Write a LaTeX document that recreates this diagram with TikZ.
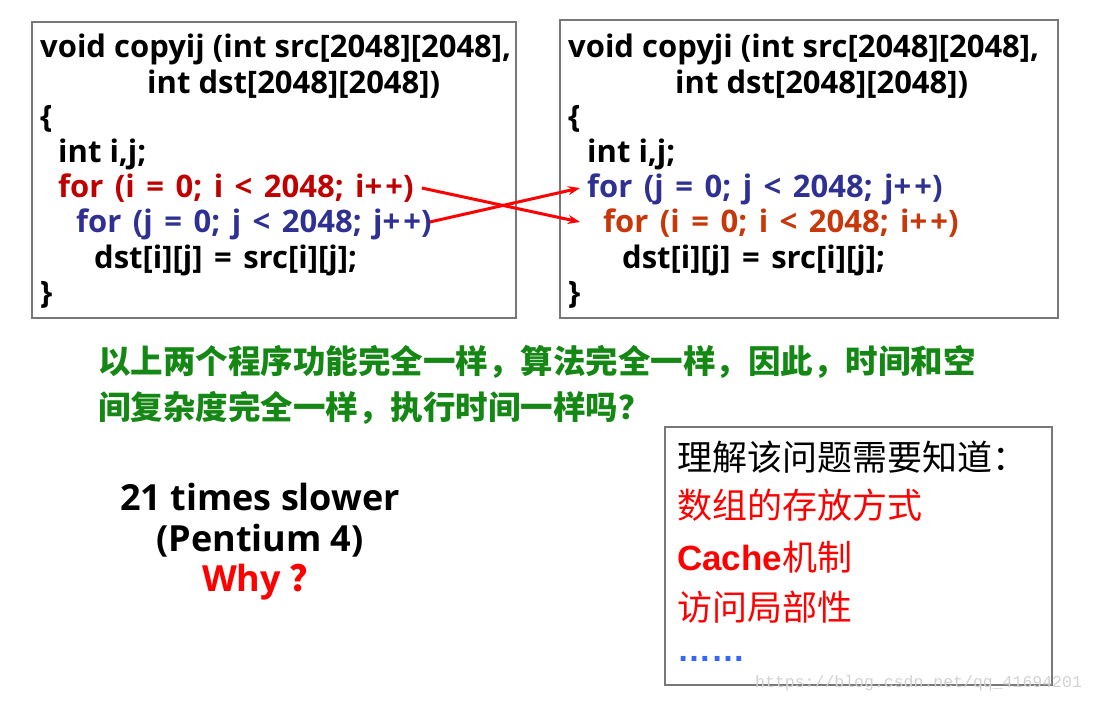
\documentclass[tikz,border=0pt]{standalone}
\usepackage{fontspec}
\usepackage{xcolor}
\setmainfont{Open Sans}
\newfontfamily\cjk{Noto Sans CJK SC}
\newfontfamily\arialf{Liberation Sans}
\newfontfamily\urlf{Liberation Mono}
\usetikzlibrary{arrows.meta}
\definecolor{boxgray}{RGB}{120,120,120}
\definecolor{forred}{RGB}{192,0,0}
\definecolor{forblue}{RGB}{46,49,146}
\definecolor{fororange}{RGB}{200,55,10}
\definecolor{notegreen}{RGB}{20,135,20}
\definecolor{dotblue}{RGB}{51,102,255}
\newcommand{\codefont}{\fontsize{31}{35}\selectfont\bfseries}
\newcommand{\widecode}{\codefont\spaceskip=11.5pt\relax}
\newcommand{\pp}{+\kern3pt+}

\begin{document}
\begin{tikzpicture}[x=1pt,y=-1pt,
  box/.style={draw=boxgray,line width=1.2pt},
  code/.style={anchor=base west,inner sep=0pt,font=\codefont},
  loop/.style={code,font=\widecode},
  note/.style={anchor=west,inner sep=0pt,font=\fontsize{32.5}{36}\selectfont\cjk\bfseries,text=notegreen},
  slow/.style={inner sep=0pt,font=\fontsize{36}{40}\selectfont\bfseries},
  know/.style={anchor=west,inner sep=0pt,font=\fontsize{35}{38}\selectfont\cjk},
  swap/.style={draw=red,line width=3pt,-{Stealth[length=12pt,width=9pt]}}]
\useasboundingbox (0,0) rectangle (1096,702);
\draw[box] (32,22) rectangle (516,318);
\draw[box] (560,20) rectangle (1058,318);
\draw[box] (665,427) rectangle (1052,685);

\node[code] (lhead) at (40,57) {void copyij (int src[2048][2048],};
\node[code] (lhead2) at (147,93) {int dst[2048][2048])};
\node[code] (lopen) at (40,127) {\{};
\node[code] (lint) at (58,162) {int i,j;};
\node[loop,text=forred] (li) at (58,197) {for (i = 0; i < 2048; i\pp)};
\node[loop,text=forblue] (lj) at (76,232) {for (j = 0; j < 2048; j\pp)};
\node[loop] (lbody) at (94,268) {dst[i][j] = src[i][j];};
\node[code] (lclose) at (40,303) {\}};

\node[code] (rhead) at (568,57) {void copyji (int src[2048][2048],};
\node[code] (rhead2) at (675,93) {int dst[2048][2048])};
\node[code] (ropen) at (568,127) {\{};
\node[code] (rint) at (587,162) {int i,j;};
\node[loop,text=forblue] (rj) at (587,197) {for (j = 0; j < 2048; j\pp)};
\node[loop,text=fororange] (ri) at (603,232) {for (i = 0; i < 2048; i\pp)};
\node[loop] (rbody) at (622,268) {dst[i][j] = src[i][j];};
\node[code] (rclose) at (568,303) {\}};

\draw[swap] ([xshift=8pt,yshift=9pt]li.base east) -- ([xshift=-23pt,yshift=10pt]ri.base west);
\draw[swap] ([xshift=-2pt,yshift=10pt]lj.base east) -- ([xshift=-7pt,yshift=9pt]rj.base west);

\node[note] (q1) at (98,362) {以上两个程序功能完全一样，算法完全一样，因此，时间和空};
\node[note] (q2) at (98,408) {间复杂度完全一样，执行时间一样吗？};

\node[slow] (times) at (260,497) {21 times slower};
\node[slow] (cpu) at (260,541) {(Pentium 4)};
\node[slow,text=red] (why) at (264,582) {Why\kern9pt{\cjk\bfseries ？}};

\node[know] (k0) at (677,457) {理解该问题需要知道：};
\node[know,text=red] (k1) at (677,505) {数组的存放方式};
\node[know,text=red] (k2) at (677,557) {{\arialf\bfseries Cache}机制};
\node[know,text=red] (k3) at (677,607) {访问局部性};
\node[know,text=dotblue,font=\fontsize{34}{38}\selectfont\arialf\bfseries] (k4) at (677,659) {……};

\node[anchor=west,inner sep=0pt,font=\fontsize{16.5}{18}\selectfont\urlf,text=black!18] (mark) at (755,683) {https://blog.csdn.net/qq\_41694201};
\end{tikzpicture}
\end{document}
